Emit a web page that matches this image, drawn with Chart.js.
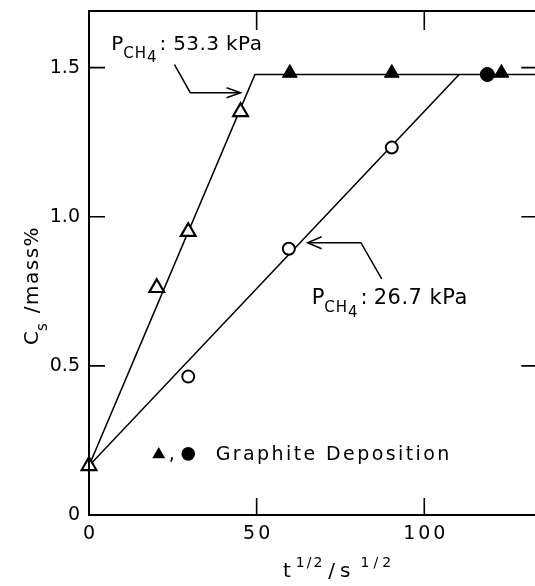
<!DOCTYPE html>
<html>
<head>
<meta charset="utf-8">
<script src="https://cdn.jsdelivr.net/npm/chart.js@4"></script>
<style>
  html, body { margin: 0; padding: 0; background: #fff; overflow: hidden; }
  #wrap { width: 550px; height: 586px; }
</style>
</head>
<body>
<div id="wrap"><canvas id="cs" width="550" height="586"></canvas></div>
<script>
// Carbon content C_s against square root of carburizing time

const xTicks = [0, 50, 100];
const yTicks = [0, 0.5, 1.0, 1.5];

// P_CH4 = 53.3 kPa
const highP_x = [0, 20.2, 29.6, 45.2];
const highP_y = [0.165, 0.762, 0.95, 1.352];
const highPGraphite_x = [59.9, 90.3, 123];
const highPGraphite_y = [1.482, 1.482, 1.482];
const highPFit_x = [0, 49.5, 134.3];
const highPFit_y = [0.165, 1.477, 1.477];

// P_CH4 = 26.7 kPa
const lowP_x = [29.6, 59.6, 90.3];
const lowP_y = [0.464, 0.893, 1.232];
const lowPGraphite_x = [118.8];
const lowPGraphite_y = [1.477];
const lowPFit_x = [0, 110.4];
const lowPFit_y = [0.165, 1.477];

const FONT = '"DejaVu Sans", sans-serif';

function zip(xs, ys) {
    return xs.map((x, i) => ({ x: x, y: ys[i] }));
}

// labels with subscripts / superscripts, drawn piece by piece
function drawParts(ctx, x, y, parts) {
    let cx = x;
    parts.forEach(p => {
        cx += p.gap || 0;
        ctx.font = `${p.size}px ${FONT}`;
        ctx.letterSpacing = (p.ls || 0) + "px";
        ctx.fillText(p.t, cx, y + (p.dy || 0));
        cx += ctx.measureText(p.t).width;
    });
    ctx.letterSpacing = "0px";
}

function arrow(ctx, pts, head, half) {
    ctx.beginPath();
    ctx.moveTo(pts[0][0], pts[0][1]);
    for (let i = 1; i < pts.length; i++) ctx.lineTo(pts[i][0], pts[i][1]);
    ctx.stroke();
    const [tx, ty] = pts[pts.length - 1];
    const [px, py] = pts[pts.length - 2];
    const a = Math.atan2(ty - py, tx - px);
    ctx.beginPath();
    ctx.moveTo(tx - head * Math.cos(a) + half * Math.sin(a), ty - head * Math.sin(a) - half * Math.cos(a));
    ctx.lineTo(tx, ty);
    ctx.lineTo(tx - head * Math.cos(a) - half * Math.sin(a), ty - head * Math.sin(a) + half * Math.cos(a));
    ctx.stroke();
}

const notes = {
    high: { text: [6.6, 1.56], arrow: [[25.5, 1.51], [30.2, 1.416], [45.2, 1.416]] },
    low: { text: [66.4, 0.708], arrow: [[87.3, 0.792], [81.1, 0.913], [65.2, 0.913]] },
    key: { tri: [20.8, 0.203], dot: [29.6, 0.205], text: [37.8, 0.185] }
};

const framePlugin = {
    id: "frame",
    afterDraw(chart) {
        const { ctx, chartArea: a, scales } = chart;
        const xs = scales.x, ys = scales.y;
        const X = v => xs.getPixelForValue(v);
        const Y = v => ys.getPixelForValue(v);

        ctx.save();
        ctx.strokeStyle = "#000";
        ctx.fillStyle = "#000";

        // box
        ctx.lineWidth = 2;
        ctx.strokeRect(a.left, a.top, a.right - a.left, a.bottom - a.top);

        // inward ticks on all four sides
        ctx.lineWidth = 1.6;
        ctx.beginPath();
        xTicks.filter(v => v > 0).forEach(v => {
            ctx.moveTo(X(v), a.bottom); ctx.lineTo(X(v), a.bottom - 17);
            ctx.moveTo(X(v), a.top); ctx.lineTo(X(v), a.top + 19);
        });
        yTicks.filter(v => v > 0).forEach(v => {
            ctx.moveTo(a.left, Y(v)); ctx.lineTo(a.left + 16, Y(v));
            ctx.moveTo(a.right, Y(v)); ctx.lineTo(a.right - 18, Y(v));
        });
        ctx.stroke();

        // x tick labels
        ctx.font = `19px ${FONT}`;
        ctx.letterSpacing = "3px";
        ctx.textAlign = "center";
        ctx.textBaseline = "middle";
        xTicks.forEach(v => ctx.fillText(String(v), X(v) + 1.5, a.bottom + 19));
        ctx.letterSpacing = "0px";

        ctx.textAlign = "left";
        ctx.textBaseline = "alphabetic";

        // x axis title
        drawParts(ctx, 283, 577, [
            { t: "t", size: 20 },
            { t: "1/2", size: 14, dy: -10, gap: 5, ls: 2 },
            { t: "/", size: 20, gap: 4 },
            { t: "s", size: 20, gap: 5 },
            { t: "1/2", size: 14, dy: -10, gap: 10, ls: 4 }
        ]);

        // y axis title, reading upwards
        ctx.save();
        ctx.translate(38, 345);
        ctx.rotate(-Math.PI / 2);
        drawParts(ctx, 0, 0, [
            { t: "C", size: 20 },
            { t: "s", size: 15, dy: 9 },
            { t: "/mass%", size: 20, gap: 10, ls: 1.5 }
        ]);
        ctx.restore();

        // pressure labels with arrows
        ctx.lineWidth = 1.5;
        const h = notes.high;
        drawParts(ctx, X(h.text[0]), Y(h.text[1]), [
            { t: "P", size: 20 },
            { t: "CH", size: 15, dy: 8, ls: 1 },
            { t: "4", size: 15, dy: 12 },
            { t: ":", size: 20, gap: 3 },
            { t: "53.3 kPa", size: 20, gap: 7, ls: 0.4 }
        ]);
        arrow(ctx, h.arrow.map(p => [X(p[0]), Y(p[1])]), 14, 5);

        const l = notes.low;
        drawParts(ctx, X(l.text[0]), Y(l.text[1]), [
            { t: "P", size: 21 },
            { t: "CH", size: 15, dy: 8, ls: 1 },
            { t: "4", size: 15, dy: 13 },
            { t: ":", size: 21, gap: 3 },
            { t: "26.7 kPa", size: 21, gap: 6, ls: 0.5 }
        ]);
        arrow(ctx, l.arrow.map(p => [X(p[0]), Y(p[1])]), 14, 6);

        // key for graphite-deposition symbols
        const k = notes.key;
        const tx = X(k.tri[0]), ty = Y(k.tri[1]), r = 7.5;
        ctx.beginPath();
        ctx.moveTo(tx, ty - r);
        ctx.lineTo(tx + r * 0.866, ty + r / 2);
        ctx.lineTo(tx - r * 0.866, ty + r / 2);
        ctx.closePath();
        ctx.fill();
        ctx.beginPath();
        ctx.arc(X(k.dot[0]), Y(k.dot[1]), 6.8, 0, Math.PI * 2);
        ctx.fill();
        ctx.font = `19px ${FONT}`;
        ctx.fillText(",", tx + 10, Y(k.text[1]));
        ctx.letterSpacing = "2.4px";
        ctx.fillText("Graphite Deposition", X(k.text[0]), Y(k.text[1]));
        ctx.letterSpacing = "0px";

        ctx.restore();
    }
};

// keep the plot box fixed regardless of tick label overhang
function fixBox(size, key) {
    return s => {
        s[key] = size;
        s.paddingTop = 0; s.paddingBottom = 0;
        s.paddingLeft = 0; s.paddingRight = 0;
    };
}

new Chart(document.getElementById("cs"), {
    type: "scatter",
    data: {
        datasets: [
            {
                data: zip(highPFit_x, highPFit_y), showLine: true, pointRadius: 0,
                borderColor: "#000", borderWidth: 1.6, order: 2
            },
            {
                data: zip(lowPFit_x, lowPFit_y), showLine: true, pointRadius: 0,
                borderColor: "#000", borderWidth: 1.6, order: 2
            },
            {
                data: zip(highP_x, highP_y), pointStyle: "triangle", pointRadius: 8.5,
                borderColor: "#000", backgroundColor: "#fff", borderWidth: 2.2, order: 1,
                clip: false
            },
            {
                data: zip(highPGraphite_x, highPGraphite_y), pointStyle: "triangle", pointRadius: 8.5,
                borderColor: "#000", backgroundColor: "#000", borderWidth: 1, order: 1
            },
            {
                data: zip(lowP_x, lowP_y), pointStyle: "circle", pointRadius: 6,
                borderColor: "#000", backgroundColor: "#fff", borderWidth: 2, order: 1
            },
            {
                data: zip(lowPGraphite_x, lowPGraphite_y), pointStyle: "circle", pointRadius: 7,
                borderColor: "#000", backgroundColor: "#000", borderWidth: 1, order: 1
            }
        ]
    },
    options: {
        responsive: false,
        animation: false,
        devicePixelRatio: 1,
        layout: { padding: { top: 11, right: 5, left: 0, bottom: 0 } },
        plugins: { legend: { display: false }, tooltip: { enabled: false } },
        scales: {
            x: {
                type: "linear", min: 0, max: 134.3,
                ticks: { display: false, stepSize: 50, includeBounds: false },
                grid: { display: false, drawTicks: false },
                border: { display: false },
                afterFit: fixBox(71, "height")
            },
            y: {
                type: "linear", min: 0, max: 1.69,
                ticks: {
                    stepSize: 0.5, includeBounds: false, padding: 9, color: "#000",
                    font: { family: FONT, size: 19 },
                    callback: v => v === 0 ? "0" : v.toFixed(1)
                },
                grid: { display: false, drawTicks: false },
                border: { display: false },
                afterFit: fixBox(89, "width")
            }
        }
    },
    plugins: [framePlugin]
});
</script>
</body>
</html>
